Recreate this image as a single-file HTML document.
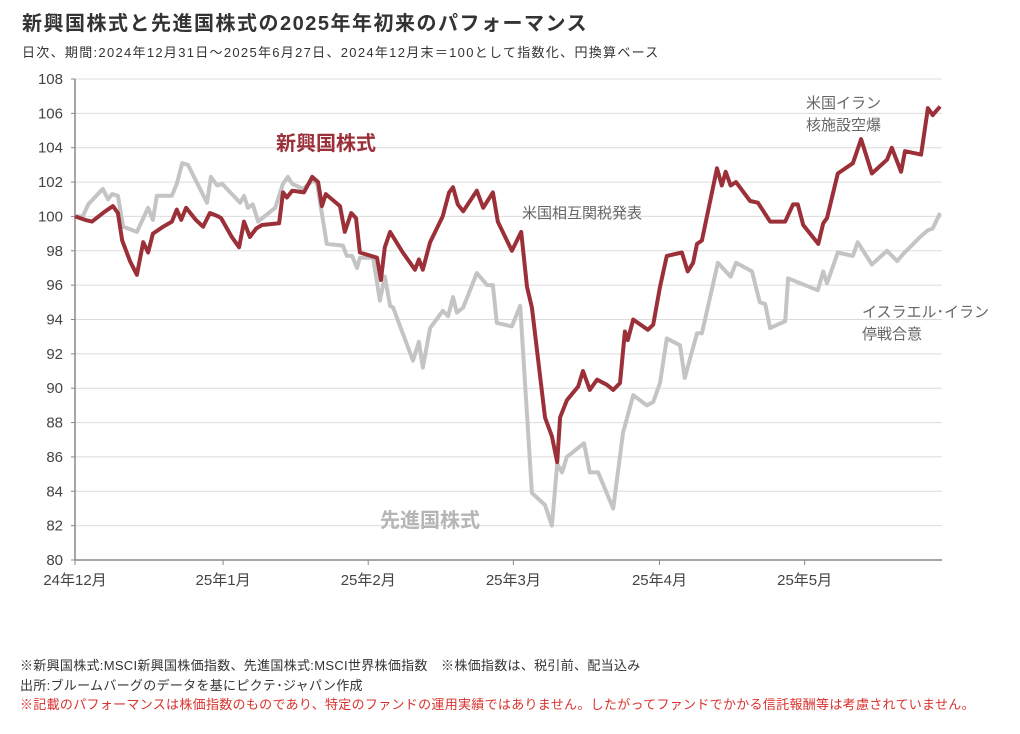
<!DOCTYPE html>
<html><head><meta charset="utf-8">
<style>
body{margin:0;background:#fff;width:1020px;height:729px;overflow:hidden;font-family:"Liberation Sans","Noto Sans CJK JP",sans-serif;}
svg text{font-family:"Liberation Sans","Noto Sans CJK JP",sans-serif;}
</style></head>
<body>
<svg id="chart" width="1020" height="729" xmlns="http://www.w3.org/2000/svg">
<text x="22" y="30" font-size="20" font-weight="bold" fill="#333" letter-spacing="1.5">新興国株式と先進国株式の2025年年初来のパフォーマンス</text>
<text x="22" y="57" font-size="13" fill="#333" letter-spacing="1.3">日次、期間:2024年12月31日～2025年6月27日、2024年12月末＝100として指数化、円換算ベース</text>
<g id="grid"></g><g id="axes"></g><g id="series"></g>
<text x="276" y="150" font-size="20" font-weight="bold" fill="#9b3038">新興国株式</text>
<text x="380" y="527" font-size="20" font-weight="bold" fill="#b5b5b5">先進国株式</text>
<text x="522" y="218" font-size="15" fill="#666">米国相互関税発表</text>
<text x="806" y="108" font-size="15" fill="#666">米国イラン</text>
<text x="806" y="130" font-size="15" fill="#666">核施設空爆</text>
<text x="862" y="317" font-size="15" fill="#666">イスラエル･イラン</text>
<text x="862" y="339" font-size="15" fill="#666">停戦合意</text>
<text x="20" y="670" font-size="13" fill="#333" letter-spacing="0.3">※新興国株式:MSCI新興国株価指数、先進国株式:MSCI世界株価指数　※株価指数は、税引前、配当込み</text>
<text x="20" y="690" font-size="13" fill="#333" letter-spacing="0.3">出所:ブルームバーグのデータを基にピクテ･ジャパン作成</text>
<text x="20" y="709" font-size="13" fill="#d9322e" letter-spacing="0.3">※記載のパフォーマンスは株価指数のものであり、特定のファンドの運用実績ではありません。したがってファンドでかかる信託報酬等は考慮されていません。</text>
</svg>
<script>
const yTicks=[80,82,84,86,88,90,92,94,96,98,100,102,104,106,108];
const xTickDays=[0,30.4,60.2,90,120,149.8];
const xTickLabels=["24年12月","25年1月","25年2月","25年3月","25年4月","25年5月"];
const emDays=[0,2.1,3.5,6.2,7.8,8.8,9.7,11.3,12.7,14.0,15.0,16.0,18.1,19.9,20.9,21.8,22.8,24.8,26.3,27.7,29.4,30.0,32.2,33.7,34.7,35.9,37.2,38.4,41.9,42.7,43.5,44.6,47.0,48.7,49.9,50.7,51.5,54.4,55.4,56.7,57.7,58.5,62.0,62.8,63.6,64.7,67.3,69.8,70.6,71.4,72.9,75.5,76.8,77.6,78.6,79.7,82.5,83.8,85.8,86.8,89.7,91.6,92.8,93.8,96.5,97.9,99.0,99.6,101.0,103.3,104.3,105.7,107.2,109.2,110.5,111.9,112.9,113.5,114.6,117.6,118.7,120.1,121.5,124.6,125.8,126.9,127.7,128.7,131.8,132.8,133.6,134.6,135.7,138.6,140.2,142.7,145.8,147.4,148.4,149.5,152.6,153.6,154.4,156.6,159.7,161.4,163.6,166.7,167.7,169.6,170.4,173.7,175.1,176.1,177.6];
const emValues=[100,99.8,99.7,100.3,100.6,100.2,98.6,97.4,96.6,98.5,97.9,99.0,99.4,99.7,100.4,99.8,100.5,99.8,99.4,100.2,100.0,99.9,98.8,98.2,99.7,98.8,99.3,99.5,99.6,101.4,101.1,101.5,101.4,102.3,102.0,100.6,101.3,100.6,99.1,100.2,99.9,97.9,97.6,96.3,98.2,99.1,97.9,96.9,97.5,96.9,98.5,100.0,101.4,101.7,100.7,100.3,101.5,100.5,101.4,99.7,98.0,99.1,95.9,94.7,88.3,87.2,85.7,88.3,89.3,90.1,91.0,89.9,90.5,90.2,89.9,90.3,93.3,92.8,94.0,93.4,93.7,95.9,97.7,97.9,96.8,97.3,98.4,98.6,102.8,101.8,102.6,101.8,102.0,100.9,100.8,99.7,99.7,100.7,100.7,99.5,98.4,99.6,99.9,102.5,103.1,104.5,102.5,103.3,104.0,102.6,103.8,103.6,106.3,105.9,106.4];
const dmDays=[0,1.6,2.7,5.7,6.8,7.6,8.8,9.9,12.7,15.0,16.0,16.8,19.9,20.9,22.0,23.2,27.1,27.9,29.2,30.2,33.9,34.7,35.5,36.5,37.6,41.1,42.7,43.7,44.6,46.8,48.9,49.7,51.7,55.0,55.8,56.9,57.9,58.5,61.2,62.6,63.6,64.7,65.3,69.4,70.6,71.4,72.9,75.5,76.6,77.6,78.4,79.7,82.5,84.6,85.8,86.6,89.7,91.4,93.8,96.5,97.9,99.0,100.0,101.0,104.5,105.7,107.4,110.5,112.5,114.6,117.4,118.7,120.1,121.5,124.2,125.2,127.7,128.7,132.0,134.6,135.7,139.0,140.6,141.7,142.7,145.8,146.4,152.5,153.6,154.4,156.6,159.7,160.7,163.6,166.7,168.8,170.0,173.5,175.1,176.1,177.6];
const dmValues=[100,100,100.7,101.6,101,101.3,101.2,99.4,99.1,100.5,99.8,101.2,101.2,101.9,103.1,103.0,100.8,102.3,101.8,101.9,100.8,101.2,100.5,100.7,99.7,100.5,101.9,102.3,101.9,101.6,102.1,101.9,98.4,98.3,97.7,97.7,97.0,97.6,97.6,95.1,96.5,94.8,94.7,91.6,92.7,91.2,93.5,94.5,94.2,95.3,94.4,94.7,96.7,96.0,96.0,93.8,93.6,94.8,83.9,83.2,82.0,85.6,85.1,86.0,86.8,85.1,85.1,83.0,87.4,89.6,89.0,89.2,90.3,92.9,92.5,90.6,93.2,93.2,97.3,96.5,97.3,96.8,95.0,94.9,93.5,93.9,96.4,95.7,96.8,96.1,97.9,97.7,98.5,97.2,98.0,97.4,97.8,98.8,99.2,99.3,100.2];

const NS="http://www.w3.org/2000/svg";
const X0=75,X1=942,Y0=560,Y1=79;
function xs(d){return X0+(d/178)*(X1-X0);}
function ys(v){return Y0-(v-80)/28*(Y0-Y1);}
function mk(tag,parent,attrs){const e=document.createElementNS(NS,tag);for(const k in attrs)e.setAttribute(k,attrs[k]);parent.appendChild(e);return e;}
const grid=document.getElementById('grid'),axes=document.getElementById('axes'),series=document.getElementById('series');
yTicks.forEach(v=>{
  if(v>80){const l=mk('line',grid,{x1:X0,x2:X1,y1:ys(v),y2:ys(v),stroke:'#dcdcdc','stroke-width':1});
  
  }
  const t=mk('text',axes,{x:X0-12,y:ys(v)+5,'text-anchor':'end','font-size':15,fill:'#444'});
  t.textContent=v;
  
  
  const tk=mk('line',axes,{x1:X0-4,x2:X0,y1:ys(v),y2:ys(v),stroke:'#888'});
  
  
});
const ya=mk('line',axes,{x1:X0,x2:X0,y1:Y1,y2:Y0,stroke:'#888','stroke-width':1.5});


const xa=mk('line',axes,{x1:X0,x2:X1,y1:Y0,y2:Y0,stroke:'#888','stroke-width':1.5});


xTickDays.forEach((d,i)=>{
  const tk=mk('line',axes,{x1:xs(d),x2:xs(d),y1:Y0,y2:Y0+5,stroke:'#888'});
  
  
  const t=mk('text',axes,{x:xs(d),y:Y0+25,'text-anchor':'middle','font-size':15,fill:'#444'});
  t.textContent=xTickLabels[i];
  
  
});
function line(days,vals){return days.map((d,i)=>xs(d).toFixed(1)+','+ys(vals[i]).toFixed(1)).join(' ');}
const dm=mk('polyline',series,{points:line(dmDays,dmValues),fill:'none',stroke:'#c4c4c4','stroke-width':4,'stroke-linejoin':'round'});


const em=mk('polyline',series,{points:line(emDays,emValues),fill:'none',stroke:'#9b3038','stroke-width':4,'stroke-linejoin':'round'});


</script>
</body></html>
